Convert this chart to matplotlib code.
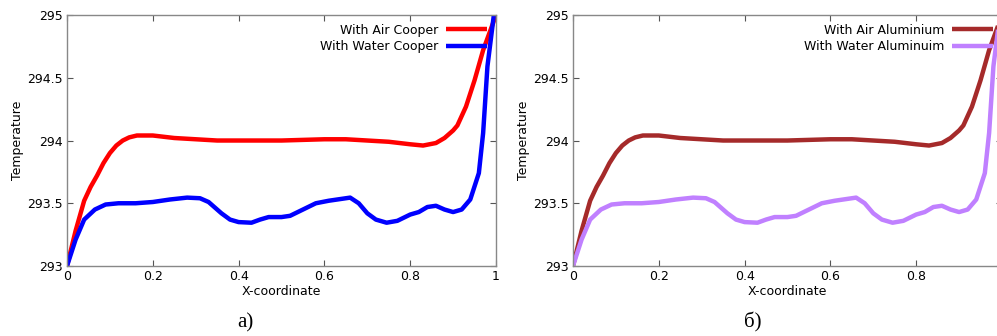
import matplotlib
matplotlib.use("Agg")
import matplotlib.pyplot as plt

# ---- data ----
x_air = [0.0, 0.02, 0.04, 0.055, 0.07, 0.085, 0.10, 0.115, 0.13, 0.145, 0.163, 0.2, 0.25, 0.3, 0.35, 0.4,
         0.45, 0.5, 0.55, 0.6, 0.65, 0.7, 0.75, 0.8, 0.83, 0.86, 0.88, 0.9, 0.91, 0.93, 0.95, 0.97, 1.0]
t_air = [293.0, 293.28, 293.52, 293.63, 293.72, 293.82, 293.90, 293.96, 294.0, 294.025, 294.04, 294.04,
         294.02, 294.01, 294.0, 294.0, 294.0, 294.0, 294.005, 294.01, 294.01, 294.0, 293.99, 293.97,
         293.96, 293.98, 294.02, 294.08, 294.12, 294.27, 294.48, 294.72, 295.0]

x_water = [0.0, 0.02, 0.04, 0.065, 0.09, 0.12, 0.16, 0.2, 0.24, 0.28, 0.31, 0.33, 0.36, 0.38, 0.4,
           0.43, 0.45, 0.47, 0.5, 0.52, 0.55, 0.58, 0.61, 0.63, 0.66, 0.68, 0.7, 0.72, 0.745,
           0.77, 0.8, 0.82, 0.84, 0.86, 0.88, 0.9, 0.92, 0.94, 0.96, 0.97, 0.98, 0.995]
t_water = [293.0, 293.21, 293.37, 293.45, 293.49, 293.5, 293.5, 293.51, 293.53, 293.545, 293.54,
           293.51, 293.42, 293.37, 293.35, 293.345, 293.37, 293.39, 293.39, 293.40, 293.45, 293.50,
           293.52, 293.53, 293.545, 293.5, 293.42, 293.37, 293.345, 293.36, 293.41, 293.43, 293.47,
           293.48, 293.45, 293.43, 293.45, 293.53, 293.74, 294.06, 294.59, 295.0]

x_ticks = [0, 0.2, 0.4, 0.6, 0.8, 1]
x_ticklabels = ["0", "0.2", "0.4", "0.6", "0.8", "1"]
y_ticks = [293, 293.5, 294, 294.5, 295]
y_ticklabels = ["293", "293.5", "294", "294.5", "295"]

panels = [
    dict(pos=[0.0672, 0.2083, 0.4303, 0.747], air_label="With Air Cooper", water_label="With Water Cooper",
         air_color="#ff0000", water_color="#0000ff", tag="a)", tag_x=0.246, show_last=True),
    dict(pos=[0.5747, 0.2083, 0.4303, 0.747], air_label="With Air Aluminium", water_label="With Water Aluminuim",
         air_color="#a52a2a", water_color="#c080ff", tag="б)", tag_x=0.755, show_last=False),
]

fig = plt.figure(figsize=(9.97, 3.36), dpi=100)
fig.patch.set_facecolor("white")

for p in panels:
    ax = fig.add_axes(p["pos"])
    ax.plot(x_air, t_air, color=p["air_color"], lw=3.2, label=p["air_label"], solid_capstyle="butt")
    ax.plot(x_water, t_water, color=p["water_color"], lw=3.2, label=p["water_label"], solid_capstyle="butt")
    ax.set_xlim(0, 1)
    ax.set_ylim(293, 295)
    ax.set_xticks(x_ticks)
    ax.set_xticklabels(x_ticklabels)
    ax.set_yticks(y_ticks)
    ax.set_yticklabels(y_ticklabels)
    if not p["show_last"]:
        ax.get_xticklabels()[-1].set_visible(False)
    ax.tick_params(direction="in", top=True, right=True, length=4, width=0.8, color="#555555",
                   labelsize=9, pad=3)
    for s in ax.spines.values():
        s.set_color("#888888")
        s.set_linewidth(1.0)
    ax.set_xlabel("X-coordinate", fontsize=9, labelpad=1)
    ax.set_ylabel("Temperature", fontsize=9, labelpad=2)
    leg = ax.legend(loc="upper right", markerfirst=False, frameon=False, fontsize=9,
                    handlelength=3.3, handletextpad=0.6, labelspacing=0.25,
                    borderaxespad=0.3, bbox_to_anchor=(1.0, 1.0))
    for t in leg.get_texts():
        t.set_ha("right")
    fig.text(p["tag_x"], 0.04, p["tag"], fontsize=15, family="Liberation Serif", ha="center", va="center")

fig.savefig("out.png", dpi=100)
